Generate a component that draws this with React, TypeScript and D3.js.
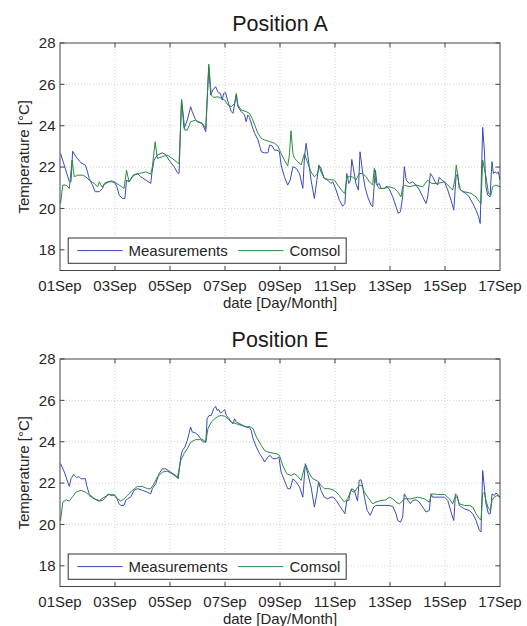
import React from "react";
import * as d3 from "d3";

const W = 527;
const H = 626;
const FONT = "'Liberation Sans', Arial, Helvetica, sans-serif";

// ---- data ----
const panelTitles = ["Position A", "Position E"];
const seriesNames = ["Measurements", "Comsol"];
const seriesColors = ["#3a4bb8", "#2b8a3a"];
const xTickDays = [0, 2, 4, 6, 8, 10, 12, 14, 16];
const yTickValues = [18, 20, 22, 24, 26, 28];
const yDomain = [17, 28];
const xLabel = "date [Day/Month]";
const yLabel = "Temperature [°C]";

// [days since 01 Sep, temperature °C]
const measA: [number, number][] = [
  [0.02,22.66],[0.19,21.94],[0.34,21.29],[0.4,21.29],[0.46,22.77],[0.58,22.5],[0.76,22.21],[0.92,22.1],[1.0,21.77],[1.06,21.45],[1.18,21.13],[1.28,20.81],[1.43,20.81],[1.55,20.97],[1.61,21.21],[1.73,21.29],[1.91,21.29],[2.01,21.21],[2.07,21.05],[2.15,20.65],[2.27,20.48],[2.36,20.48],[2.42,21.37],[2.51,21.29],[2.66,21.61],[2.82,21.69],[2.94,21.53],[3.12,21.37],[3.3,21.21],[3.34,21.69],[3.42,22.34],[3.54,22.58],[3.72,22.69],[3.84,22.61],[3.96,22.34],[4.15,22.02],[4.27,21.73],[4.33,21.69],[4.42,25.24],[4.51,23.87],[4.63,24.27],[4.75,24.92],[4.81,24.68],[4.91,24.35],[4.99,24.19],[5.17,24.11],[5.3,23.71],[5.41,26.85],[5.48,25.48],[5.56,25.73],[5.66,25.89],[5.75,25.6],[5.83,25.56],[5.9,25.24],[5.95,25.56],[6.02,25.6],[6.11,25.16],[6.23,24.68],[6.29,24.6],[6.41,25.48],[6.47,24.92],[6.59,24.68],[6.71,24.52],[6.77,24.19],[6.83,24.52],[6.89,24.4],[6.99,23.95],[7.08,23.63],[7.2,23.31],[7.32,22.74],[7.44,22.69],[7.56,22.69],[7.62,23.06],[7.72,23.02],[7.8,22.82],[7.89,22.82],[7.98,22.74],[8.04,22.1],[8.16,21.53],[8.28,21.13],[8.37,21.37],[8.47,22.02],[8.59,21.94],[8.71,21.69],[8.83,20.97],[8.89,22.5],[8.95,23.15],[9.01,22.58],[9.13,21.37],[9.25,20.48],[9.34,21.37],[9.41,22.1],[9.49,21.94],[9.61,21.45],[9.73,21.37],[9.85,21.21],[9.92,21.29],[10.04,20.89],[10.16,20.4],[10.28,20.11],[10.36,20.24],[10.43,21.69],[10.5,21.21],[10.56,21.37],[10.61,22.37],[10.68,21.85],[10.76,21.21],[10.85,20.89],[10.91,22.74],[11.01,21.69],[11.09,21.05],[11.19,20.56],[11.31,20.16],[11.37,20.08],[11.43,21.21],[11.47,21.85],[11.53,21.13],[11.61,21.21],[11.67,20.97],[11.79,20.97],[11.89,21.08],[11.98,20.92],[12.1,20.56],[12.22,20.08],[12.3,19.76],[12.38,19.84],[12.46,20.56],[12.52,22.02],[12.59,21.37],[12.7,21.21],[12.82,21.29],[12.95,21.13],[13.07,20.89],[13.19,20.56],[13.31,20.24],[13.37,20.56],[13.47,21.69],[13.55,21.53],[13.64,21.29],[13.73,21.13],[13.79,21.5],[13.88,21.37],[13.98,21.29],[14.1,20.89],[14.22,20.4],[14.32,19.92],[14.4,21.53],[14.46,21.69],[14.52,20.97],[14.64,20.81],[14.76,20.73],[14.88,20.56],[15.01,20.24],[15.13,19.92],[15.22,19.6],[15.28,19.27],[15.37,23.92],[15.43,22.82],[15.49,21.05],[15.55,20.65],[15.64,20.56],[15.67,21.37],[15.71,22.26],[15.76,21.69],[15.82,21.77],[15.89,21.69],[15.94,21.77],[16.0,21.37],
];

const comsolA: [number, number][] = [
  [0.02,20.24],[0.1,21.13],[0.22,21.13],[0.34,20.97],[0.44,22.34],[0.52,21.53],[0.64,21.61],[0.82,21.61],[0.94,21.53],[1.06,21.37],[1.24,21.21],[1.37,21.05],[1.43,21.29],[1.52,21.05],[1.67,21.21],[1.85,21.34],[1.97,21.29],[2.15,21.13],[2.33,20.97],[2.42,21.85],[2.51,21.29],[2.69,21.61],[2.88,21.69],[3.12,21.77],[3.3,21.66],[3.36,22.02],[3.46,23.23],[3.54,22.42],[3.72,22.5],[3.9,22.58],[4.08,22.42],[4.27,22.21],[4.33,22.18],[4.42,25.27],[4.54,23.79],[4.63,23.79],[4.75,24.19],[4.93,24.27],[5.17,24.11],[5.3,23.87],[5.41,26.98],[5.5,25.48],[5.59,25.37],[5.75,25.4],[5.87,25.32],[5.99,25.24],[6.11,25.0],[6.23,24.92],[6.35,25.08],[6.41,25.56],[6.47,25.0],[6.59,24.76],[6.77,24.68],[6.89,24.6],[6.99,24.35],[7.08,24.03],[7.2,23.63],[7.32,23.39],[7.44,23.31],[7.62,23.23],[7.8,23.15],[7.92,23.02],[8.04,22.66],[8.16,22.34],[8.28,22.05],[8.34,22.58],[8.4,23.76],[8.47,22.66],[8.53,22.42],[8.65,22.26],[8.77,22.1],[8.89,22.66],[9.01,22.18],[9.13,21.77],[9.25,21.53],[9.37,21.69],[9.43,22.02],[9.49,21.77],[9.61,21.45],[9.79,21.4],[9.98,21.37],[10.1,21.13],[10.28,20.81],[10.36,20.73],[10.43,21.53],[10.52,21.53],[10.64,21.53],[10.76,21.37],[10.88,21.69],[11.01,21.69],[11.13,21.53],[11.25,21.29],[11.37,21.13],[11.43,21.94],[11.49,21.21],[11.61,20.97],[11.79,20.97],[11.98,21.05],[12.16,20.97],[12.28,20.81],[12.4,20.56],[12.46,21.05],[12.52,21.13],[12.7,21.05],[12.95,21.13],[13.19,21.05],[13.37,21.37],[13.52,21.21],[13.73,21.21],[13.98,21.29],[14.16,21.05],[14.28,20.89],[14.36,21.37],[14.41,22.1],[14.48,21.37],[14.56,20.89],[14.7,20.81],[14.95,20.73],[15.13,20.56],[15.25,20.32],[15.31,20.24],[15.37,22.34],[15.49,21.53],[15.58,20.73],[15.67,20.65],[15.73,21.05],[15.85,21.13],[16.0,21.05],
];

const measE: [number, number][] = [
  [0.02,22.94],[0.16,22.53],[0.28,22.05],[0.34,21.84],[0.4,22.21],[0.5,22.42],[0.56,22.32],[0.6,22.26],[0.68,22.32],[0.76,22.21],[0.92,22.21],[0.97,21.89],[1.06,21.48],[1.18,21.32],[1.31,21.19],[1.43,21.13],[1.55,21.16],[1.67,21.32],[1.76,21.48],[1.85,21.4],[1.97,21.45],[2.05,21.32],[2.15,21.0],[2.21,20.92],[2.33,20.92],[2.39,21.16],[2.45,21.24],[2.57,21.32],[2.69,21.65],[2.82,21.73],[3.0,21.65],[3.18,21.56],[3.3,21.48],[3.36,21.73],[3.48,21.97],[3.6,22.45],[3.72,22.69],[3.84,22.69],[4.02,22.53],[4.21,22.37],[4.3,22.21],[4.39,23.26],[4.45,23.58],[4.54,23.74],[4.63,24.06],[4.69,24.39],[4.75,24.71],[4.81,24.47],[4.93,24.42],[5.03,24.31],[5.11,24.15],[5.23,24.06],[5.3,23.98],[5.35,25.11],[5.42,25.27],[5.5,25.27],[5.59,25.6],[5.66,25.71],[5.71,25.52],[5.78,25.55],[5.83,25.39],[5.9,25.44],[5.99,25.55],[6.05,25.27],[6.15,25.11],[6.23,24.95],[6.29,24.87],[6.35,25.11],[6.41,24.95],[6.53,24.87],[6.65,24.79],[6.77,24.71],[6.89,24.68],[6.95,24.55],[7.02,24.15],[7.14,23.74],[7.26,23.42],[7.38,23.18],[7.44,23.02],[7.56,23.26],[7.64,23.34],[7.74,23.18],[7.86,23.18],[7.96,23.26],[8.04,22.53],[8.16,22.13],[8.28,21.73],[8.37,21.73],[8.47,22.21],[8.59,22.05],[8.71,21.81],[8.83,21.32],[8.92,22.94],[9.01,22.45],[9.13,21.81],[9.25,20.84],[9.34,21.48],[9.4,22.05],[9.49,21.65],[9.61,21.32],[9.73,21.24],[9.85,21.32],[9.94,21.32],[10.04,21.16],[10.16,20.92],[10.28,20.68],[10.36,20.52],[10.43,21.16],[10.5,21.16],[10.56,21.56],[10.61,21.73],[10.7,21.65],[10.82,21.13],[10.88,22.13],[10.95,22.16],[11.01,21.81],[11.07,21.32],[11.17,20.68],[11.28,20.44],[11.41,20.84],[11.49,20.92],[11.67,20.92],[11.85,20.92],[11.98,20.92],[12.1,20.87],[12.22,20.52],[12.28,20.19],[12.38,20.11],[12.46,20.35],[12.52,21.48],[12.59,21.32],[12.64,21.19],[12.74,21.0],[12.82,21.16],[12.95,21.19],[13.07,21.08],[13.19,20.84],[13.31,20.6],[13.43,20.68],[13.49,21.48],[13.55,21.32],[13.64,21.32],[13.79,21.32],[13.98,21.32],[14.1,21.16],[14.22,20.6],[14.32,20.19],[14.38,21.48],[14.44,21.4],[14.52,20.92],[14.7,20.76],[14.88,20.68],[15.01,20.52],[15.13,20.19],[15.25,19.71],[15.31,19.63],[15.37,22.61],[15.43,21.81],[15.49,21.0],[15.58,20.52],[15.65,20.52],[15.71,21.48],[15.79,21.4],[15.85,21.52],[15.92,21.45],[16.0,21.32],
];

const comsolE: [number, number][] = [
  [0.02,20.19],[0.1,21.08],[0.22,21.19],[0.34,21.13],[0.46,21.35],[0.58,21.56],[0.76,21.65],[0.94,21.56],[1.06,21.4],[1.24,21.24],[1.43,21.16],[1.61,21.32],[1.79,21.45],[1.97,21.4],[2.09,21.24],[2.21,21.13],[2.33,21.24],[2.45,21.4],[2.63,21.65],[2.82,21.84],[3.0,21.84],[3.18,21.73],[3.3,21.73],[3.42,21.97],[3.54,22.29],[3.72,22.53],[3.9,22.58],[4.08,22.45],[4.27,22.26],[4.39,23.1],[4.51,23.42],[4.63,23.66],[4.75,23.98],[4.93,24.1],[5.11,24.1],[5.23,23.98],[5.3,23.98],[5.38,24.63],[5.5,24.95],[5.63,25.11],[5.75,25.23],[5.87,25.27],[5.99,25.23],[6.11,25.11],[6.23,24.95],[6.41,24.87],[6.59,24.79],[6.77,24.71],[6.89,24.74],[7.02,24.63],[7.14,24.23],[7.32,23.82],[7.44,23.58],[7.56,23.5],[7.74,23.45],[7.89,23.42],[7.98,23.34],[8.1,22.85],[8.25,22.45],[8.4,22.37],[8.53,22.45],[8.65,22.32],[8.77,22.13],[8.89,22.77],[8.95,22.85],[9.07,22.45],[9.19,22.21],[9.37,22.1],[9.49,21.89],[9.61,21.73],[9.79,21.73],[9.98,21.65],[10.16,21.4],[10.34,21.08],[10.46,21.24],[10.58,21.65],[10.7,21.56],[10.88,21.89],[10.97,21.89],[11.07,21.56],[11.19,21.32],[11.37,21.0],[11.49,21.08],[11.67,21.16],[11.85,21.19],[11.98,21.32],[12.1,21.24],[12.22,21.08],[12.34,21.0],[12.46,21.13],[12.52,21.24],[12.76,21.24],[13.01,21.32],[13.25,21.24],[13.43,21.08],[13.52,21.48],[13.73,21.45],[13.98,21.45],[14.16,21.24],[14.28,21.0],[14.36,21.32],[14.44,21.32],[14.52,21.0],[14.7,20.92],[14.88,20.92],[15.01,20.84],[15.13,20.52],[15.25,20.27],[15.31,20.23],[15.37,21.48],[15.43,21.56],[15.49,21.16],[15.58,20.76],[15.65,20.68],[15.71,21.16],[15.79,21.32],[15.89,21.4],[16.0,21.32],
];

// ---- layout ----
const DAY = 86400000;
const T0 = Date.UTC(2015, 8, 1);
const toDate = (d: number) => new Date(T0 + d * DAY);
const PL = 60, PR = 500, PT = 43, PB = 270.5;
const TICK = 4.5;
const fmt = d3.utcFormat("%d%b");

function Panel({ dy, title, meas, comsol, id }: { dy: number; title: string; meas: [number, number][]; comsol: [number, number][]; id: string }) {
  const x = d3.scaleUtc().domain([toDate(xTickDays[0]), toDate(xTickDays[xTickDays.length - 1])]).range([PL, PR]);
  const y = d3.scaleLinear().domain(yDomain).range([PB + dy, PT + dy]);
  const line = d3.line<[number, number]>().x((d) => x(toDate(d[0]))).y((d) => y(d[1]));
  const top = PT + dy, bot = PB + dy;
  const axisColor = "#444";
  const gridColor = "#d2d2d2";
  const legY = 250.6 + dy;
  return (
    <g>
      <defs>
        <clipPath id={id}>
          <rect x={PL} y={top} width={PR - PL} height={bot - top} />
        </clipPath>
      </defs>
      {/* grid */}
      {xTickDays.slice(1, -1).map((d) => (
        <line key={"gx" + d} x1={x(toDate(d))} x2={x(toDate(d))} y1={top} y2={bot} stroke={gridColor} strokeWidth={1} strokeDasharray="1,2" />
      ))}
      {yTickValues.filter((v) => v !== 28).map((v) => (
        <line key={"gy" + v} x1={PL} x2={PR} y1={y(v)} y2={y(v)} stroke={gridColor} strokeWidth={1} strokeDasharray="1,2" />
      ))}
      {/* lines */}
      <g clipPath={`url(#${id})`}>
        <path d={line(meas) || ""} fill="none" stroke={seriesColors[0]} strokeWidth={1} strokeLinejoin="round" />
        <path d={line(comsol) || ""} fill="none" stroke={seriesColors[1]} strokeWidth={1} strokeLinejoin="round" />
      </g>
      {/* box */}
      <rect x={PL} y={top} width={PR - PL} height={bot - top} fill="none" stroke={axisColor} strokeWidth={1} />
      {/* ticks */}
      {xTickDays.slice(1, -1).map((d) => (
        <g key={"tx" + d}>
          <line x1={x(toDate(d))} x2={x(toDate(d))} y1={bot} y2={bot - TICK} stroke={axisColor} />
          <line x1={x(toDate(d))} x2={x(toDate(d))} y1={top} y2={top + TICK} stroke={axisColor} />
        </g>
      ))}
      {yTickValues.map((v) => (
        <g key={"ty" + v}>
          <line x1={PL} x2={PL + TICK} y1={y(v)} y2={y(v)} stroke={axisColor} />
          <line x1={PR} x2={PR - TICK} y1={y(v)} y2={y(v)} stroke={axisColor} />
        </g>
      ))}
      {/* tick labels */}
      {xTickDays.map((d) => (
        <text key={"lx" + d} x={x(toDate(d))} y={291 + dy} textAnchor="middle" fontSize={15} fill="#262626" fontFamily={FONT}>
          {fmt(toDate(d))}
        </text>
      ))}
      {yTickValues.map((v) => (
        <text key={"ly" + v} x={55.5} y={y(v) + 5.4} textAnchor="end" fontSize={15} fill="#262626" fontFamily={FONT}>
          {v}
        </text>
      ))}
      {/* axis labels */}
      <text x={(PL + PR) / 2} y={307.5 + dy} textAnchor="middle" fontSize={15} fill="#262626" fontFamily={FONT}>
        {xLabel}
      </text>
      <text transform={`translate(29,${(top + bot) / 2}) rotate(-90)`} textAnchor="middle" fontSize={15} fill="#262626" fontFamily={FONT}>
        {yLabel}
      </text>
      {/* title */}
      <text x={(PL + PR) / 2} y={31 + dy} textAnchor="middle" fontSize={21.5} fill="#1a1a1a" fontFamily={FONT}>
        {title}
      </text>
      {/* legend */}
      <rect x={68.2} y={238 + dy} width={278} height={25.3} fill="#fff" stroke="#333" strokeWidth={1} />
      <line x1={77.3} x2={122.7} y1={legY} y2={legY} stroke={seriesColors[0]} strokeWidth={1} />
      <text x={128.5} y={legY + 5.4} fontSize={15} fill="#262626" fontFamily={FONT}>{seriesNames[0]}</text>
      <line x1={238} x2={283.4} y1={legY} y2={legY} stroke={seriesColors[1]} strokeWidth={1} />
      <text x={289.5} y={legY + 5.4} fontSize={15} fill="#262626" fontFamily={FONT}>{seriesNames[1]}</text>
    </g>
  );
}

export default function App() {
  return (
    <svg width={W} height={H} style={{ position: "absolute", left: 0, top: 0, background: "#fff" }}>
      <rect x={0} y={0} width={W} height={H} fill="#fff" />
      <Panel dy={0} title={panelTitles[0]} meas={measA} comsol={comsolA} id="clipA" />
      <Panel dy={316} title={panelTitles[1]} meas={measE} comsol={comsolE} id="clipE" />
    </svg>
  );
}
